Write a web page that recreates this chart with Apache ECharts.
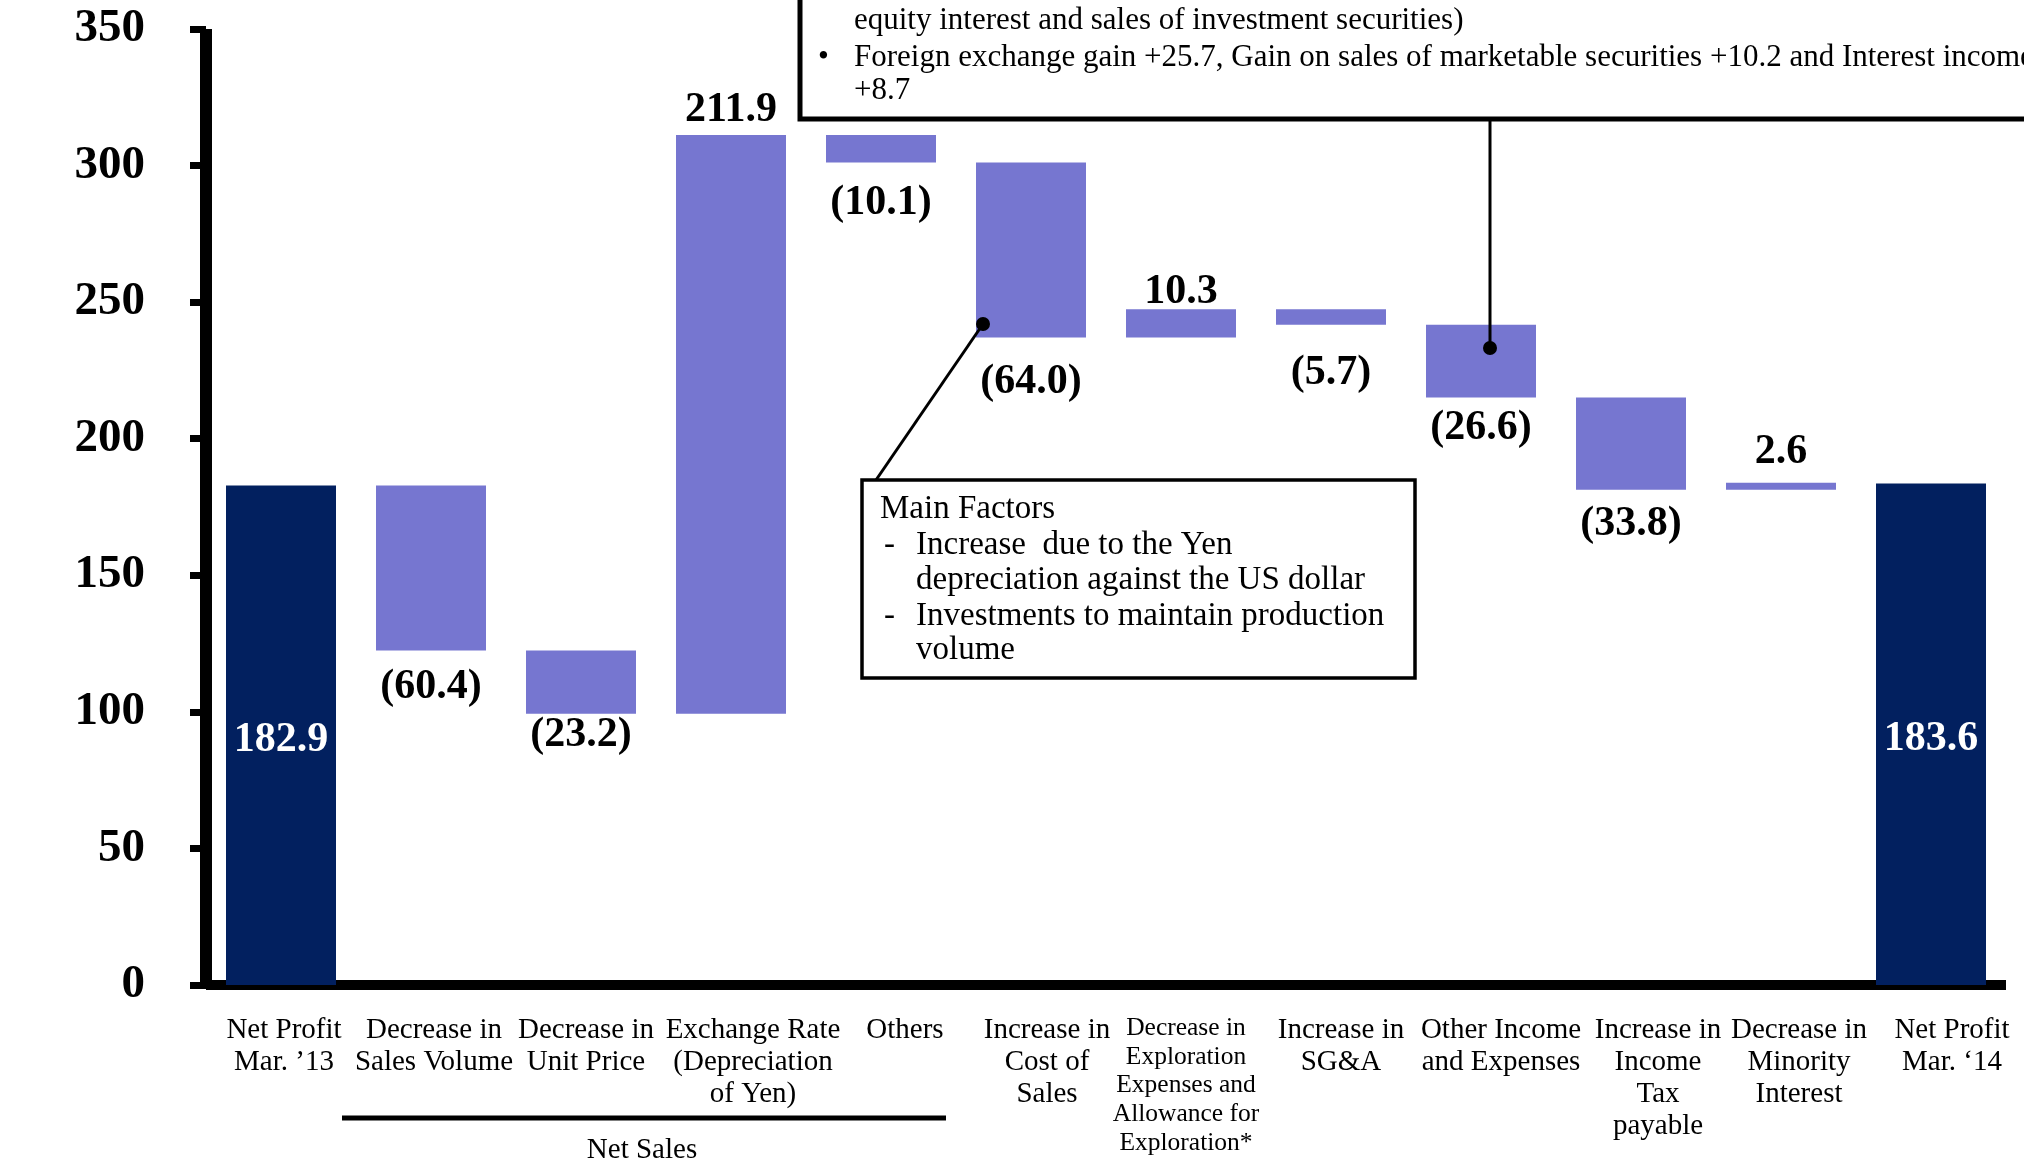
<!DOCTYPE html>
<html>
<head>
<meta charset="utf-8">
<script src="https://cdn.jsdelivr.net/npm/echarts@6/dist/echarts.min.js"></script>
<style>
html,body{margin:0;padding:0;background:#fff;}
#chart{width:2024px;height:1159px;}
</style>
</head>
<body>
<div id="chart"></div>
<script>
// ---------------- data ----------------
const categories = [
  'Net Profit\nMar. \u201913',
  'Decrease in\nSales Volume',
  'Decrease in\nUnit Price',
  'Exchange Rate\n(Depreciation\nof Yen)',
  'Others',
  'Increase in\nCost of\nSales',
  'Decrease in\nExploration\nExpenses and\nAllowance for\nExploration*',
  'Increase in\nSG&A',
  'Other Income\nand Expenses',
  'Increase in\nIncome\nTax\npayable',
  'Decrease in\nMinority\nInterest',
  'Net Profit\nMar. \u201814'
];
const startValue = 182.9;
const changes = [-60.4, -23.2, 211.9, -10.1, -64.0, 10.3, -5.7, -26.6, -33.8, 2.6];
const endValue = 183.6;
const yMin = 0, yMax = 350, yInterval = 50;

const topNoteLines = [
  'equity interest and sales of investment securities)',
  'Foreign exchange gain +25.7, Gain on sales of marketable securities +10.2 and Interest income',
  '+8.7'
];
const mainFactorsTitle = 'Main Factors';
const mainFactorsLines = [
  'Increase  due to the Yen',
  'depreciation against the US dollar',
  'Investments to maintain production',
  'volume'
];
const groupLabel = 'Net Sales';

// ---------------- styles ----------------
const DELTA_COLOR = '#7676D0';
const TOTAL_COLOR = '#02205F';
const SERIF = '"Liberation Serif", "Times New Roman", serif';
// per-bar label distance (px), tuned to the reference layout
const LABEL_DIST = {1:16, 2:0, 3:4, 4:20, 5:24, 6:-4, 7:27, 8:10, 9:13, 10:10};
// per-category horizontal shift of the axis label (px), tuned to the reference layout
const CAT_DX = [3, 3, 5, 22, 24, 16, 5, 10, 20, 27, 18, 21];

// ---------------- build waterfall ----------------
const baseData = [0];
const barData = [];
const totalLabel = {
  show: true, position: 'inside', color: '#fff', fontFamily: SERIF,
  fontWeight: 'bold', fontSize: 42, offset: [0, 5],
  formatter: p => p.value.toFixed(1)
};
barData.push({ value: startValue, itemStyle: { color: TOTAL_COLOR }, label: totalLabel });
let running = startValue;
changes.forEach((c, i) => {
  const after = running + c;
  baseData.push(Math.min(running, after));
  const idx = i + 1;
  barData.push({
    value: Math.abs(c),
    itemStyle: { color: DELTA_COLOR },
    label: {
      show: true,
      position: c < 0 ? 'bottom' : 'top',
      distance: LABEL_DIST[idx] ?? 10,
      color: '#000', fontFamily: SERIF, fontWeight: 'bold',
      fontSize: 42, lineHeight: 42,
      formatter: () => c < 0 ? '(' + Math.abs(c).toFixed(1) + ')' : c.toFixed(1)
    }
  });
  running = after;
});
baseData.push(0);
barData.push({ value: endValue, itemStyle: { color: TOTAL_COLOR }, label: totalLabel });

// rich styles for per-category label shifts
const rich = {};
CAT_DX.forEach((dx, i) => {
  const small = i === 6;
  rich['c' + i] = {
    fontFamily: SERIF, color: '#000',
    fontSize: small ? 25.5 : 29, lineHeight: small ? 28.7 : 32,
    padding: [0, 0, 0, 2 * dx]
  };
});

const chart = echarts.init(document.getElementById('chart'), null, { renderer: 'canvas' });

const TXT = (text, x, y, size, extra) => Object.assign({
  type: 'text', z: 101,
  style: Object.assign({ text, x, y, font: size + 'px ' + SERIF, fill: '#000', textVerticalAlign: 'middle' }, extra || {})
});

const graphics = [
  // top note box
  { type: 'rect', z: 100, shape: { x: 800, y: -20, width: 1400, height: 139 },
    style: { fill: '#fff', stroke: '#000', lineWidth: 5 } },
  TXT(topNoteLines[0], 854, 21, 31),
  TXT('\u2022', 818, 57.5, 31),
  TXT(topNoteLines[1], 854, 57.5, 31),
  TXT(topNoteLines[2], 854, 91, 31),
  { type: 'line', z: 101, shape: { x1: 1490, y1: 119, x2: 1490, y2: 348 }, style: { stroke: '#000', lineWidth: 3 } },
  { type: 'circle', z: 101, shape: { cx: 1490, cy: 348, r: 7 }, style: { fill: '#000' } },

  // main factors box
  { type: 'line', z: 101, shape: { x1: 876, y1: 480, x2: 983, y2: 324 }, style: { stroke: '#000', lineWidth: 3 } },
  { type: 'circle', z: 101, shape: { cx: 983, cy: 324, r: 7 }, style: { fill: '#000' } },
  { type: 'rect', z: 100, shape: { x: 862, y: 480, width: 553, height: 198 },
    style: { fill: '#fff', stroke: '#000', lineWidth: 3.5 } },
  TXT(mainFactorsTitle, 880, 509.5, 33),
  TXT('-', 884, 545.5, 33),
  TXT(mainFactorsLines[0], 916, 545.5, 33),
  TXT(mainFactorsLines[1], 916, 580.5, 33),
  TXT('-', 884, 616.5, 33),
  TXT(mainFactorsLines[2], 916, 616.5, 33),
  TXT(mainFactorsLines[3], 916, 650.5, 33),

  // Net Sales group bracket
  { type: 'line', z: 101, shape: { x1: 342, y1: 1118, x2: 946, y2: 1118 }, style: { stroke: '#000', lineWidth: 5 } },
  TXT(groupLabel, 642, 1150, 29, { textAlign: 'center' })
];

chart.setOption({
  animation: false,
  backgroundColor: '#fff',
  grid: { left: 206, right: 18, top: 29, bottom: 174, containLabel: false },
  xAxis: {
    type: 'category',
    data: categories,
    axisLine: { show: true, lineStyle: { color: '#000', width: 10, cap: 'butt' } },
    axisTick: { show: false },
    axisLabel: {
      interval: 0, margin: 29, color: '#000',
      fontFamily: SERIF, fontSize: 29, lineHeight: 32,
      formatter: (v, i) => v.split('\n').map(l => '{c' + i + '|' + l + '}').join('\n'),
      rich: rich
    },
    splitLine: { show: false }
  },
  yAxis: {
    type: 'value',
    min: yMin, max: yMax, interval: yInterval,
    axisLine: { show: true, lineStyle: { color: '#000', width: 12, cap: 'butt' } },
    axisTick: { show: true, length: 16, lineStyle: { color: '#000', width: 7, cap: 'butt' } },
    axisLabel: { color: '#000', fontFamily: SERIF, fontWeight: 'bold', fontSize: 47, margin: 61, padding: [7, 0, 0, 0] },
    splitLine: { show: false }
  },
  series: [
    { type: 'bar', stack: 'w', data: baseData, barWidth: 110, silent: true,
      itemStyle: { color: 'rgba(0,0,0,0)' }, label: { show: false } },
    { type: 'bar', stack: 'w', data: barData, barWidth: 110 }
  ],
  graphic: graphics
});
</script>
</body>
</html>
